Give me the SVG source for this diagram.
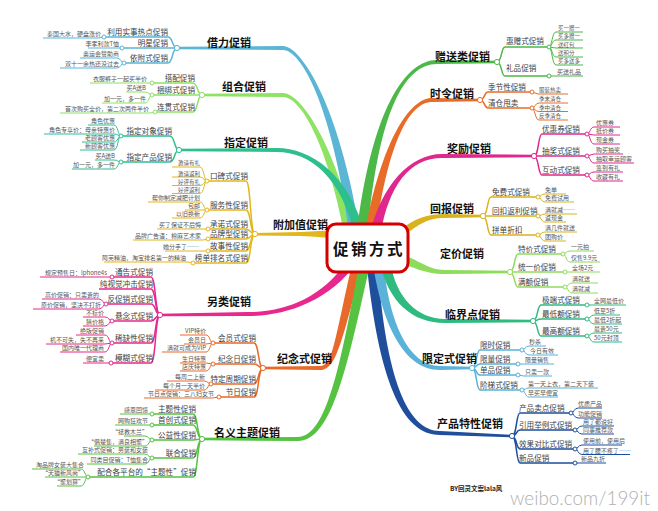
<svg xmlns="http://www.w3.org/2000/svg" width="658" height="511" viewBox="0 0 658 511">
<style>
text{font-family:"Noto Sans CJK SC","Noto Sans",sans-serif}
.t0{font-size:11px;font-weight:bold;fill:#111}
.t1{font-size:7.6px;fill:#3c3c3c}
.t2{font-size:6px;fill:#555}
.t3{font-size:5.5px;fill:#555}
.e{text-anchor:end}
.l{fill:none;stroke-width:1.5}
.s{fill:none;stroke-width:1}
.cc circle{fill:#fff;stroke-width:1}
</style>
<rect width="658" height="511" fill="#fff"/>
<g id="connectors">
 <g id="main-branches">
  <path fill="#8ee264" d="M202 93.8L283 93C300 93 333.5 140 355.5 235L344.5 235C326.5 140 300 97 283 97L202 96.2Z"/>
  <path fill="#5bb5d5" d="M177 46.8L283 46C300 46 338.5 100 360.5 235L349.5 235C331.5 100 300 50 283 50L177 49.2Z"/>
  <path fill="#2dbf8c" d="M179 148.8L277 148C310 148 348.5 173 365.5 235L354.5 235C341.5 177 310 152 277 152L179 151.2Z"/>
  <path fill="#e2b71d" d="M255 233L300 232C315 231.5 325 230.5 340 230.5L340 238C325 238 315 236.5 300 236L255 235.4Z"/>
  <path fill="#4cb848" d="M497 60.8L437 60C405 60 371.5 110 356.5 235L367.5 235C378.5 110 405 64 437 64L497 63.2Z"/>
  <path fill="#e86c28" d="M480 98.8L432 98C410 98 381.5 140 364.5 235L375.5 235C388.5 140 410 102 432 102L480 101.2Z"/>
  <path fill="#e0288c" d="M534 154.8L442 154C410 154 381.5 185 369.5 235L380.5 235C388.5 185 410 158 442 158L534 157.2Z"/>
  <path fill="#d9b31e" d="M483 214.8L445 214C425 214 415 219 398 231L398 240C417 226 425 218 445 218L483 217.2Z"/>
  <path fill="#8fdc5c" d="M510 270.8L445 270C427 270 417 258 398 253.5L398 263C413 266 423 274 445 274L510 273.2Z"/>
  <path fill="#e8288c" d="M160 313.8L248 312C285 312 321.5 298 346.5 262L357.5 262C328.5 302 285 316 248 316L160 316.2Z"/>
  <path fill="#e8692a" d="M263 366.8L320 366C333 366 334.5 340 352.5 262L363.5 262C341.5 340 337 370 320 370L263 369.2Z"/>
  <path fill="#56c242" d="M202 437.8L298 437C327 437 341.5 360 359.5 262L370.5 262C348.5 360 333 441 298 441L202 440.2Z"/>
  <path fill="#1e4e9c" d="M512 434.8L440 431C408 431 385.5 380 377.5 262L366.5 262C378.5 380 402 435 440 435L512 437.2Z"/>
  <path fill="#5ab2d8" d="M472 366.8L440 366C408 366 388.5 320 383.5 262L372.5 262C381.5 320 402 370 440 370L472 369.2Z"/>
  <path fill="#2fbb80" d="M533 319.8L445 319C418 319 395.5 298 390.5 262L379.5 262C388.5 302 412 323 445 323L533 322.2Z"/>
 </g>
 <g stroke="#5bb5d5">
  <path class="l" d="M177 48C172 48 173 37 168 37H104"/>
  <path class="l" d="M177 48H122"/>
  <path class="l" d="M177 48C172 48 173 63 168 63H124"/>
  <path class="s" d="M104 37L98 38H43"/>
  <path class="s" d="M122 48H88"/>
  <path class="s" d="M124 63C121 63 121 58 117 58H80"/>
  <path class="s" d="M124 63C121 63 121 68 117 68H60"/>
 </g>
 <g stroke="#8ee264">
  <path class="l" d="M202 95C197 95 198 83 193 83H152"/>
  <path class="l" d="M202 95H152"/>
  <path class="l" d="M202 95C197 95 198 112 193 112H155"/>
  <path class="s" d="M152 83H90"/>
  <path class="s" d="M152 95C149 95 149 92 145 92H126"/>
  <path class="s" d="M152 95C149 95 149 103 145 103H102"/>
  <path class="s" d="M155 112L150 113H60"/>
 </g>
 <g stroke="#2dbf8c">
  <path class="l" d="M179 150C174 150 175 136 170 136H121"/>
  <path class="l" d="M179 150C174 150 175 162 170 162H121"/>
  <path class="s" d="M121 136C118 136 118 125 114 125H88"/>
  <path class="s" d="M121 136C118 136 118 134 114 134H44"/>
  <path class="s" d="M121 136C118 136 118 142 114 142H82"/>
  <path class="s" d="M121 136C118 136 118 150 114 150H80"/>
  <path class="s" d="M121 162C118 162 118 160 114 160H95"/>
  <path class="s" d="M121 162C118 162 118 169 114 169H72"/>
 </g>
 <g stroke="#e2b71d">
  <path class="l" d="M255 234C250 234 251 181 246 181H207"/>
  <path class="l" d="M255 234C250 234 251 210 246 210H207"/>
  <path class="l" d="M255 234C250 234 251 229 246 229H208"/>
  <path class="l" d="M255 234C250 234 251 239 246 239H208"/>
  <path class="l" d="M255 234C250 234 251 251 246 251H208"/>
  <path class="l" d="M255 234C250 234 251 263 246 263H193"/>
  <path class="s" d="M207 181C204 181 204 167 200 167H172"/>
  <path class="s" d="M207 181C204 181 204 177 200 177H172"/>
  <path class="s" d="M207 181C204 181 204 185.5 200 185.5H172"/>
  <path class="s" d="M207 181C204 181 204 193.5 200 193.5H172"/>
  <path class="s" d="M207 210C204 210 204 202 200 202H148"/>
  <path class="s" d="M207 210H185"/>
  <path class="s" d="M207 210C204 210 204 218 200 218H172"/>
  <path class="s" d="M208 229H157"/>
  <path class="s" d="M208 239L203 240H133"/>
  <path class="s" d="M208 251H165"/>
  <path class="s" d="M193 263L188 262H104"/>
 </g>
 <g stroke="#e8288c">
  <path class="l" d="M160 315C155 315 156 277 151 277H112"/>
  <path class="l" d="M160 315C155 315 156 289 151 289H99"/>
  <path class="l" d="M160 315C155 315 156 304 151 304H106"/>
  <path class="l" d="M160 315C155 315 156 321 151 321H112"/>
  <path class="l" d="M160 315C155 315 156 343 151 343H112"/>
  <path class="l" d="M160 315C155 315 156 363 151 363H111"/>
  <path class="s" d="M112 277H40"/>
  <path class="s" d="M106 304C103 304 103 299 99 299H42"/>
  <path class="s" d="M106 304C103 304 103 309 99 309H33"/>
  <path class="s" d="M112 321C109 321 109 317 105 317H83"/>
  <path class="s" d="M112 321C109 321 109 326 105 326H83"/>
  <path class="s" d="M112 343C109 343 109 335 105 335H76"/>
  <path class="s" d="M112 343L105 344H46"/>
  <path class="s" d="M112 343C109 343 109 352 105 352H60"/>
  <path class="s" d="M111 363H83"/>
 </g>
 <g stroke="#e8692a">
  <path class="l" d="M263 368C258 368 259 343 254 343H213"/>
  <path class="l" d="M263 368C258 368 259 364 254 364H213"/>
  <path class="l" d="M263 368C258 368 259 384 254 384H211"/>
  <path class="l" d="M263 368C258 368 259 397 254 397H219"/>
  <path class="s" d="M213 343C210 343 210 335 206 335H180"/>
  <path class="s" d="M213 343L206 344H184"/>
  <path class="s" d="M213 343C210 343 210 352 206 352H162"/>
  <path class="s" d="M213 364L206 363H180"/>
  <path class="s" d="M213 364C210 364 210 371 206 371H180"/>
  <path class="s" d="M211 384C208 384 208 381 204 381H167"/>
  <path class="s" d="M211 384C208 384 208 390 204 390H155"/>
  <path class="s" d="M219 397L212 398H144"/>
 </g>
 <g stroke="#56c242">
  <path class="l" d="M202 439C197 439 198 414 193 414H152"/>
  <path class="l" d="M202 439C197 439 198 425 193 425H152"/>
  <path class="l" d="M202 439L193 440H152"/>
  <path class="l" d="M202 439C197 439 198 458 193 458H152"/>
  <path class="l" d="M202 439C197 439 198 477 193 477H88"/>
  <path class="s" d="M152 414H120"/>
  <path class="s" d="M152 425H115"/>
  <path class="s" d="M152 440C149 440 149 436 145 436H124"/>
  <path class="s" d="M152 440C149 440 149 446 145 446H94"/>
  <path class="s" d="M152 458C149 458 149 454 145 454H78"/>
  <path class="s" d="M152 458C149 458 149 464 145 464H87"/>
  <path class="s" d="M88 477C85 477 85 469 81 469H32"/>
  <path class="s" d="M88 477H45"/>
  <path class="s" d="M88 477C85 477 85 486 81 486H57"/>
 </g>
 <g stroke="#4cb848">
  <path class="l" d="M497 62C502 62 501 47 505 47H549"/>
  <path class="l" d="M497 62C502 62 501 76 505 76H549"/>
  <path class="s" d="M549 47C552 47 552 32 556 32H583"/>
  <path class="s" d="M549 47C552 47 552 40 556 40H583"/>
  <path class="s" d="M549 47L556 48H583"/>
  <path class="s" d="M549 47C552 47 552 57 556 57H583"/>
  <path class="s" d="M549 47C552 47 552 65 556 65H583"/>
  <path class="s" d="M549 76H583"/>
 </g>
 <g stroke="#e86c28">
  <path class="l" d="M480 100C485 100 484 92 488 92H532"/>
  <path class="l" d="M480 100C485 100 484 108 488 108H532"/>
  <path class="s" d="M532 92L538 94H568"/>
  <path class="s" d="M532 108C535 108 535 103 539 103H568"/>
  <path class="s" d="M532 108C535 108 535 111.5 539 111.5H568"/>
  <path class="s" d="M532 108C535 108 535 120 539 120H568"/>
 </g>
 <g stroke="#e0288c">
  <path class="l" d="M534 156C539 156 538 134 542 134H587"/>
  <path class="l" d="M534 156H587"/>
  <path class="l" d="M534 156C539 156 538 175 542 175H587"/>
  <path class="s" d="M587 134C590 134 590 127 594 127H620"/>
  <path class="s" d="M587 134L594 135H620"/>
  <path class="s" d="M587 134C590 134 590 144 594 144H620"/>
  <path class="s" d="M587 156L594 154H623"/>
  <path class="s" d="M587 156C590 156 590 163 594 163H634"/>
  <path class="s" d="M587 175C590 175 590 172 594 172H623"/>
  <path class="s" d="M587 175C590 175 590 181 594 181H623"/>
 </g>
 <g stroke="#d9b31e">
  <path class="l" d="M483 216C488 216 487 197 491 197H538"/>
  <path class="l" d="M483 216H538"/>
  <path class="l" d="M483 216C488 216 487 235 491 235H538"/>
  <path class="s" d="M538 197C541 197 541 194 545 194H566"/>
  <path class="s" d="M538 197C541 197 541 202 545 202H574"/>
  <path class="s" d="M538 216C541 216 541 214 545 214H577"/>
  <path class="s" d="M538 216C541 216 541 222 545 222H566"/>
  <path class="s" d="M538 235C541 235 541 232 545 232H577"/>
  <path class="s" d="M538 235C541 235 541 241 545 241H566"/>
 </g>
 <g stroke="#8fdc5c">
  <path class="l" d="M510 272C515 272 514 254 518 254H563"/>
  <path class="l" d="M510 272H565"/>
  <path class="l" d="M510 272C515 272 514 287 518 287H565"/>
  <path class="s" d="M563 254C566 254 566 251 570 251H594"/>
  <path class="s" d="M563 254C566 254 566 262 570 262H600"/>
  <path class="s" d="M565 272H600"/>
  <path class="s" d="M565 287C568 287 568 283 572 283H598"/>
  <path class="s" d="M565 287C568 287 568 293 572 293H598"/>
 </g>
 <g stroke="#2fbb80">
  <path class="l" d="M533 321C538 321 537 305 541 305H587"/>
  <path class="l" d="M533 321C538 321 537 319 541 319H587"/>
  <path class="l" d="M533 321C538 321 537 336 541 336H587"/>
  <path class="s" d="M587 305H626"/>
  <path class="s" d="M587 319C590 319 590 315 594 315H620"/>
  <path class="s" d="M587 319C590 319 590 324 594 324H622"/>
  <path class="s" d="M587 336C590 336 590 333 594 333H622"/>
  <path class="s" d="M587 336C590 336 590 342 594 342H622"/>
 </g>
 <g stroke="#5ab2d8">
  <path class="l" d="M472 368C477 368 476 350 480 350H522"/>
  <path class="l" d="M472 368C477 368 476 364 480 364H518"/>
  <path class="l" d="M472 368C477 368 476 375 480 375H518"/>
  <path class="l" d="M472 368C477 368 476 390 480 390H522"/>
  <path class="s" d="M522 350C525 350 525 346 529 346H546"/>
  <path class="s" d="M522 350C525 350 525 355 529 355H558"/>
  <path class="s" d="M518 364H554"/>
  <path class="s" d="M518 375L524 376H552"/>
  <path class="s" d="M522 390C525 390 525 388 529 388H598"/>
  <path class="s" d="M522 390C525 390 525 397 529 397H558"/>
 </g>
 <g stroke="#1e4e9c">
  <path class="l" d="M512 436C517 436 516 413 520 413H571"/>
  <path class="l" d="M512 436C517 436 516 430 520 430H575"/>
  <path class="l" d="M512 436C517 436 516 449 520 449H575"/>
  <path class="l" d="M512 436C517 436 516 463 520 463H575"/>
  <path class="s" d="M571 413C574 413 574 408 578 408H602"/>
  <path class="s" d="M571 413C574 413 574 418 578 418H602"/>
  <path class="s" d="M575 430C578 430 578 426 582 426H614"/>
  <path class="s" d="M575 430C578 430 578 434 582 434H614"/>
  <path class="s" d="M575 449C578 449 578 445 582 445H622"/>
  <path class="s" d="M575 449C578 449 578 454.5 582 454.5H630"/>
  <path class="s" d="M575 463H606"/>
 </g>
</g>

<g id="node-center">
 <rect x="327" y="224" width="81" height="48" rx="9" fill="#fff" stroke="#d40000" stroke-width="3"/>
 <text x="369" y="255" font-size="15.5" font-weight="bold" letter-spacing="2.5" text-anchor="middle" fill="#111">促销方式</text>
</g>

<g id="node-jieli">
 <text class="t0" x="207" y="46.5">借力促销</text>
 <text class="t1 e" x="168" y="35">利用实事热点促销</text>
 <text class="t1 e" x="168" y="46">明星促销</text>
 <text class="t1 e" x="168" y="61">依附式促销</text>
 <text class="t2 e" x="101" y="36">泰国大水，硬盘涨价</text>
 <text class="t2 e" x="119" y="46">李孝利款T恤</text>
 <text class="t2 e" x="119" y="56">奥运会赞助商</text>
 <text class="t2 e" x="119" y="66">双十一余热还没过去</text>
 <g class="cc" stroke="#5bb5d5"><circle cx="177" cy="48" r="2.6"/><circle cx="104" cy="37" r="2"/><circle cx="122" cy="48" r="2"/><circle cx="124" cy="63" r="2"/></g>
</g>

<g id="node-zuhe">
 <text class="t0" x="222" y="91">组合促销</text>
 <text class="t1 e" x="195" y="81">搭配促销</text>
 <text class="t1 e" x="195" y="93">捆绑式促销</text>
 <text class="t1 e" x="195" y="110">连贯式促销</text>
 <text class="t2 e" x="147" y="81">衣服裤子一起买半价</text>
 <text class="t2 e" x="146" y="90">买A送B</text>
 <text class="t2 e" x="146" y="101">加一元，多一件</text>
 <text class="t2 e" x="149" y="111">首次购买全价，第二次两件半价</text>
 <g class="cc" stroke="#8ee264"><circle cx="202" cy="95" r="2.6"/><circle cx="152" cy="83" r="2"/><circle cx="152" cy="95" r="2"/><circle cx="155" cy="112" r="2"/></g>
</g>

<g id="node-zhiding">
 <text class="t0" x="224" y="147">指定促销</text>
 <text class="t1 e" x="172" y="134">指定对象促销</text>
 <text class="t1 e" x="172" y="160">指定产品促销</text>
 <text class="t2 e" x="115" y="123">角色优惠</text>
 <text class="t2 e" x="115" y="132">角色专享价：母亲特惠价</text>
 <text class="t2 e" x="115" y="140">老顾客优惠</text>
 <text class="t2 e" x="115" y="148">新顾客优惠</text>
 <text class="t2 e" x="115" y="158">买A送B</text>
 <text class="t2 e" x="115" y="167">加一元，多一件</text>
 <g class="cc" stroke="#2dbf8c"><circle cx="179" cy="150" r="2.6"/><circle cx="121" cy="136" r="2"/><circle cx="121" cy="162" r="2"/></g>
</g>

<g id="node-fujiazhi">
 <text class="t0" x="273" y="229">附加值促销</text>
 <text class="t1 e" x="248" y="179">口碑式促销</text>
 <text class="t1 e" x="248" y="208">服务性促销</text>
 <text class="t1 e" x="248" y="227">承诺式促销</text>
 <text class="t1 e" x="248" y="237">品牌型促销</text>
 <text class="t1 e" x="248" y="249">故事性促销</text>
 <text class="t1 e" x="248" y="261">榜单排名式促销</text>
 <text class="t3 e" x="200" y="165">邀请有礼</text>
 <text class="t3 e" x="200" y="175.5">邀请返利</text>
 <text class="t3 e" x="200" y="184">好评有礼</text>
 <text class="t3 e" x="200" y="192">好评返利</text>
 <text class="t2 e" x="200" y="200">帮你制定减肥计划</text>
 <text class="t2 e" x="200" y="208">包邮</text>
 <text class="t2 e" x="200" y="216">以旧换新</text>
 <text class="t2 e" x="201" y="226.5">买了保证不后悔</text>
 <text class="t2 e" x="201" y="238">品牌广告语：棉麻艺术家</text>
 <text class="t2 e" x="199" y="249">她分手了……</text>
 <text class="t2 e" x="186" y="260">阿芙精油，淘宝排名第一的精油</text>
 <g class="cc" stroke="#e2b71d"><circle cx="255" cy="234" r="2.6"/><circle cx="207" cy="181" r="2"/><circle cx="207" cy="210" r="2"/><circle cx="208" cy="229" r="2"/><circle cx="208" cy="239" r="2"/><circle cx="208" cy="251" r="2"/><circle cx="193" cy="263" r="2"/></g>
</g>

<g id="node-linglei">
 <text class="t0" x="207" y="306">另类促销</text>
 <text class="t1 e" x="153" y="275">通告式促销</text>
 <text class="t1 e" x="153" y="287">纯视觉冲击促销</text>
 <text class="t1 e" x="153" y="302">反促销式促销</text>
 <text class="t1 e" x="153" y="319">悬念式促销</text>
 <text class="t1 e" x="153" y="341">稀缺性促销</text>
 <text class="t1 e" x="153" y="361">模糊式促销</text>
 <text class="t2 e" x="107" y="274.5">规定预售日：Iphone4s</text>
 <text class="t2 e" x="99" y="297">高价促销：只卖贵的</text>
 <text class="t2 e" x="101" y="307">原价促销，坚决不打折</text>
 <text class="t2 e" x="104" y="315">不标价</text>
 <text class="t2 e" x="104" y="324">猜价格</text>
 <text class="t2 e" x="104" y="333">绝版促销</text>
 <text class="t2 e" x="104" y="342">机不可失，失不再来</text>
 <text class="t2 e" x="104" y="350">国内唯一代理商</text>
 <text class="t2 e" x="104" y="360.5">便宜卖</text>
 <g class="cc" stroke="#e8288c"><circle cx="160" cy="315" r="2.6"/><circle cx="112" cy="277" r="2"/><circle cx="106" cy="304" r="2"/><circle cx="112" cy="321" r="2"/><circle cx="112" cy="343" r="2"/><circle cx="111" cy="363" r="2"/></g>
</g>

<g id="node-jinian">
 <text class="t0" x="277" y="363">纪念式促销</text>
 <text class="t1 e" x="256" y="341">会员式促销</text>
 <text class="t1 e" x="256" y="362">纪念日促销</text>
 <text class="t1 e" x="256" y="382">特定周期促销</text>
 <text class="t1 e" x="256" y="395">节日促销</text>
 <text class="t2 e" x="206" y="333">VIP特价</text>
 <text class="t2 e" x="206" y="342">会员日</text>
 <text class="t2 e" x="206" y="350">满就可成为VIP</text>
 <text class="t2 e" x="206" y="361">生日特惠</text>
 <text class="t2 e" x="206" y="369">店庆特惠</text>
 <text class="t2 e" x="205" y="379">每周二上新</text>
 <text class="t2 e" x="205" y="388">每个月一天半价</text>
 <text class="t2 e" x="214" y="396">节日点促销：三八妇女节</text>
 <g class="cc" stroke="#e8692a"><circle cx="263" cy="368" r="2.6"/><circle cx="213" cy="343" r="2"/><circle cx="213" cy="364" r="2"/><circle cx="211" cy="384" r="2"/><circle cx="219" cy="397" r="2"/></g>
</g>

<g id="node-mingyi">
 <text class="t0" x="214" y="437">名义主题促销</text>
 <text class="t1 e" x="196" y="412">主题性促销</text>
 <text class="t1 e" x="196" y="423">首创式促销</text>
 <text class="t1 e" x="196" y="438">公益性促销</text>
 <text class="t1 e" x="196" y="456">联合促销</text>
 <text class="t1 e" x="196" y="475">配合各平台的“主题性”促销</text>
 <text class="t2 e" x="148" y="412">感恩回馈</text>
 <text class="t2 e" x="148" y="423">网购狂欢节</text>
 <text class="t2 e" x="148" y="434">“拯救木兰”</text>
 <text class="t2 e" x="148" y="444">“倡楚集，满良相聚”</text>
 <text class="t2 e" x="148" y="452">互补式促销：男装和女装</text>
 <text class="t2 e" x="148" y="462">同类目促销：T恤集合</text>
 <text class="t2 e" x="84" y="467">淘品牌女装大集合</text>
 <text class="t2 e" x="84" y="475">“天猫新风尚”</text>
 <text class="t2 e" x="84" y="484">“聚划算”</text>
 <g class="cc" stroke="#56c242"><circle cx="202" cy="439" r="2.6"/><circle cx="152" cy="414" r="2"/><circle cx="152" cy="425" r="2"/><circle cx="152" cy="440" r="2"/><circle cx="152" cy="458" r="2"/><circle cx="88" cy="477" r="2"/></g>
</g>

<g id="node-zengsong">
 <text class="t0" x="435" y="60.5">赠送类促销</text>
 <text class="t1" x="506" y="44">惠赠式促销</text>
 <text class="t1" x="506" y="71">礼品促销</text>
 <text class="t3" x="558" y="30">买一赠一</text>
 <text class="t3" x="558" y="38">买多赠一</text>
 <text class="t3" x="558" y="46.5">送红包</text>
 <text class="t3" x="558" y="55">送积分</text>
 <text class="t3" x="558" y="63">买多送多</text>
 <text class="t2" x="557" y="74">买送礼品</text>
 <g class="cc" stroke="#4cb848"><circle cx="497" cy="62" r="2.6"/><circle cx="549" cy="47" r="2"/><circle cx="549" cy="76" r="2"/></g>
</g>

<g id="node-shiling">
 <text class="t0" x="430" y="97.5">时令促销</text>
 <text class="t1" x="488" y="89.5">季节性促销</text>
 <text class="t1" x="488" y="105.5">清仓甩卖</text>
 <text class="t3" x="539" y="92">服装热卖</text>
 <text class="t3" x="539" y="101">季末清仓</text>
 <text class="t3" x="539" y="109.5">季中清仓</text>
 <text class="t3" x="539" y="118">反季清仓</text>
 <g class="cc" stroke="#e86c28"><circle cx="480" cy="100" r="2.6"/><circle cx="532" cy="92" r="2"/><circle cx="532" cy="108" r="2"/></g>
</g>

<g id="node-jiangli">
 <text class="t0" x="447" y="152.5">奖励促销</text>
 <text class="t1" x="542" y="131.5">优惠券促销</text>
 <text class="t1" x="542" y="153.5">抽奖式促销</text>
 <text class="t1" x="542" y="172.5">互动式促销</text>
 <text class="t2" x="596" y="125">优惠券</text>
 <text class="t2" x="596" y="133">抵价券</text>
 <text class="t2" x="596" y="142">现金券</text>
 <text class="t2" x="596" y="152">购买抽奖</text>
 <text class="t2" x="596" y="161">抽取幸运顾客</text>
 <text class="t2" x="596" y="170">签到有礼</text>
 <text class="t2" x="596" y="179">收藏有礼</text>
 <g class="cc" stroke="#e0288c"><circle cx="534" cy="156" r="2.6"/><circle cx="587" cy="134" r="2"/><circle cx="587" cy="156" r="2"/><circle cx="587" cy="175" r="2"/></g>
</g>

<g id="node-huibao">
 <text class="t0" x="430" y="212.5">回报促销</text>
 <text class="t1" x="492" y="194.5">免费式促销</text>
 <text class="t1" x="492" y="213.5">回扣返利促销</text>
 <text class="t1" x="492" y="232.5">拼单折扣</text>
 <text class="t2" x="545" y="192">免单</text>
 <text class="t2" x="545" y="200">免费试用</text>
 <text class="t2" x="545" y="212">满就减……</text>
 <text class="t2" x="545" y="220">返现金</text>
 <text class="t2" x="545" y="230">满几件就送</text>
 <text class="t2" x="545" y="239">团购价</text>
 <g class="cc" stroke="#d9b31e"><circle cx="483" cy="216" r="2.6"/><circle cx="538" cy="197" r="2"/><circle cx="538" cy="216" r="2"/><circle cx="538" cy="235" r="2"/></g>
</g>

<g id="node-dingjia">
 <text class="t0" x="440" y="257.5">定价促销</text>
 <text class="t1" x="518" y="251.5">特价式促销</text>
 <text class="t1" x="518" y="269.5">统一价促销</text>
 <text class="t1" x="518" y="284.5">满额促销</text>
 <text class="t2" x="571" y="249">一元拍</text>
 <text class="t2" x="571" y="260">仅售9.9元</text>
 <text class="t2" x="572" y="270">全场2元</text>
 <text class="t2" x="572" y="281">满就送</text>
 <text class="t2" x="572" y="291">满就减</text>
 <g class="cc" stroke="#8fdc5c"><circle cx="510" cy="272" r="2.6"/><circle cx="563" cy="254" r="2"/><circle cx="565" cy="272" r="2"/><circle cx="565" cy="287" r="2"/></g>
</g>

<g id="node-linjie">
 <text class="t0" x="445" y="318.5">临界点促销</text>
 <text class="t1" x="542" y="302.5">极端式促销</text>
 <text class="t1" x="542" y="316.5">最低额促销</text>
 <text class="t1" x="542" y="333.5">最高额促销</text>
 <text class="t2" x="594" y="303">全网最低价</text>
 <text class="t2" x="594" y="313">低至5折</text>
 <text class="t2" x="594" y="322">最低2折起</text>
 <text class="t2" x="594" y="331">最贵50元</text>
 <text class="t2" x="594" y="340">50元封顶</text>
 <g class="cc" stroke="#2fbb80"><circle cx="533" cy="321" r="2.6"/><circle cx="587" cy="305" r="2"/><circle cx="587" cy="319" r="2"/><circle cx="587" cy="336" r="2"/></g>
</g>

<g id="node-xianding">
 <text class="t0" x="422" y="362.5">限定式促销</text>
 <text class="t1" x="480" y="347.5">限时促销</text>
 <text class="t1" x="480" y="361.5">限量促销</text>
 <text class="t1" x="480" y="372.5">单品促销</text>
 <text class="t1" x="480" y="387.5">阶梯式促销</text>
 <text class="t2" x="529" y="344">秒杀</text>
 <text class="t2" x="530" y="353">今日有效</text>
 <text class="t2" x="525" y="361.5">限量销售</text>
 <text class="t2" x="525" y="374">只卖一款</text>
 <text class="t2" x="528" y="386">第一天上衣，第二天下装</text>
 <text class="t2" x="528" y="395">早买早便宜</text>
 <g class="cc" stroke="#5ab2d8"><circle cx="472" cy="368" r="2.6"/><circle cx="522" cy="350" r="2"/><circle cx="518" cy="364" r="2"/><circle cx="518" cy="375" r="2"/><circle cx="522" cy="390" r="2"/></g>
</g>

<g id="node-chanpin">
 <text class="t0" x="437" y="427.5">产品特性促销</text>
 <text class="t1" x="519" y="410.5">产品卖点促销</text>
 <text class="t1" x="519" y="427.5">引用举例式促销</text>
 <text class="t1" x="519" y="446.5">效果对比式促销</text>
 <text class="t1" x="519" y="460.5">新品促销</text>
 <text class="t2" x="578" y="406">优质产品</text>
 <text class="t2" x="578" y="416">功能促销</text>
 <text class="t2" x="583" y="424">用了都说好</text>
 <text class="t2" x="583" y="432">同事推荐款</text>
 <text class="t2" x="583" y="443">使用前，使用后</text>
 <text class="t2" x="583" y="452.5">用了腰不疼了……</text>
 <text class="t2" x="581" y="461">新品九折</text>
 <g class="cc" stroke="#1e4e9c"><circle cx="512" cy="436" r="2.6"/><circle cx="571" cy="413" r="2"/><circle cx="575" cy="430" r="2"/><circle cx="575" cy="449" r="2"/><circle cx="575" cy="463" r="2"/></g>
</g>

<g id="footer">
 <text x="450" y="490.5" font-size="6.5" font-weight="bold" fill="#222">BY回灵文案lala风</text>
 <text x="510" y="505" style="font-family:Lato,'Liberation Sans',sans-serif" font-size="20" font-weight="300" fill="#b0b0b0" textLength="140" lengthAdjust="spacingAndGlyphs">weibo.com/199it</text>
</g>
</svg>
